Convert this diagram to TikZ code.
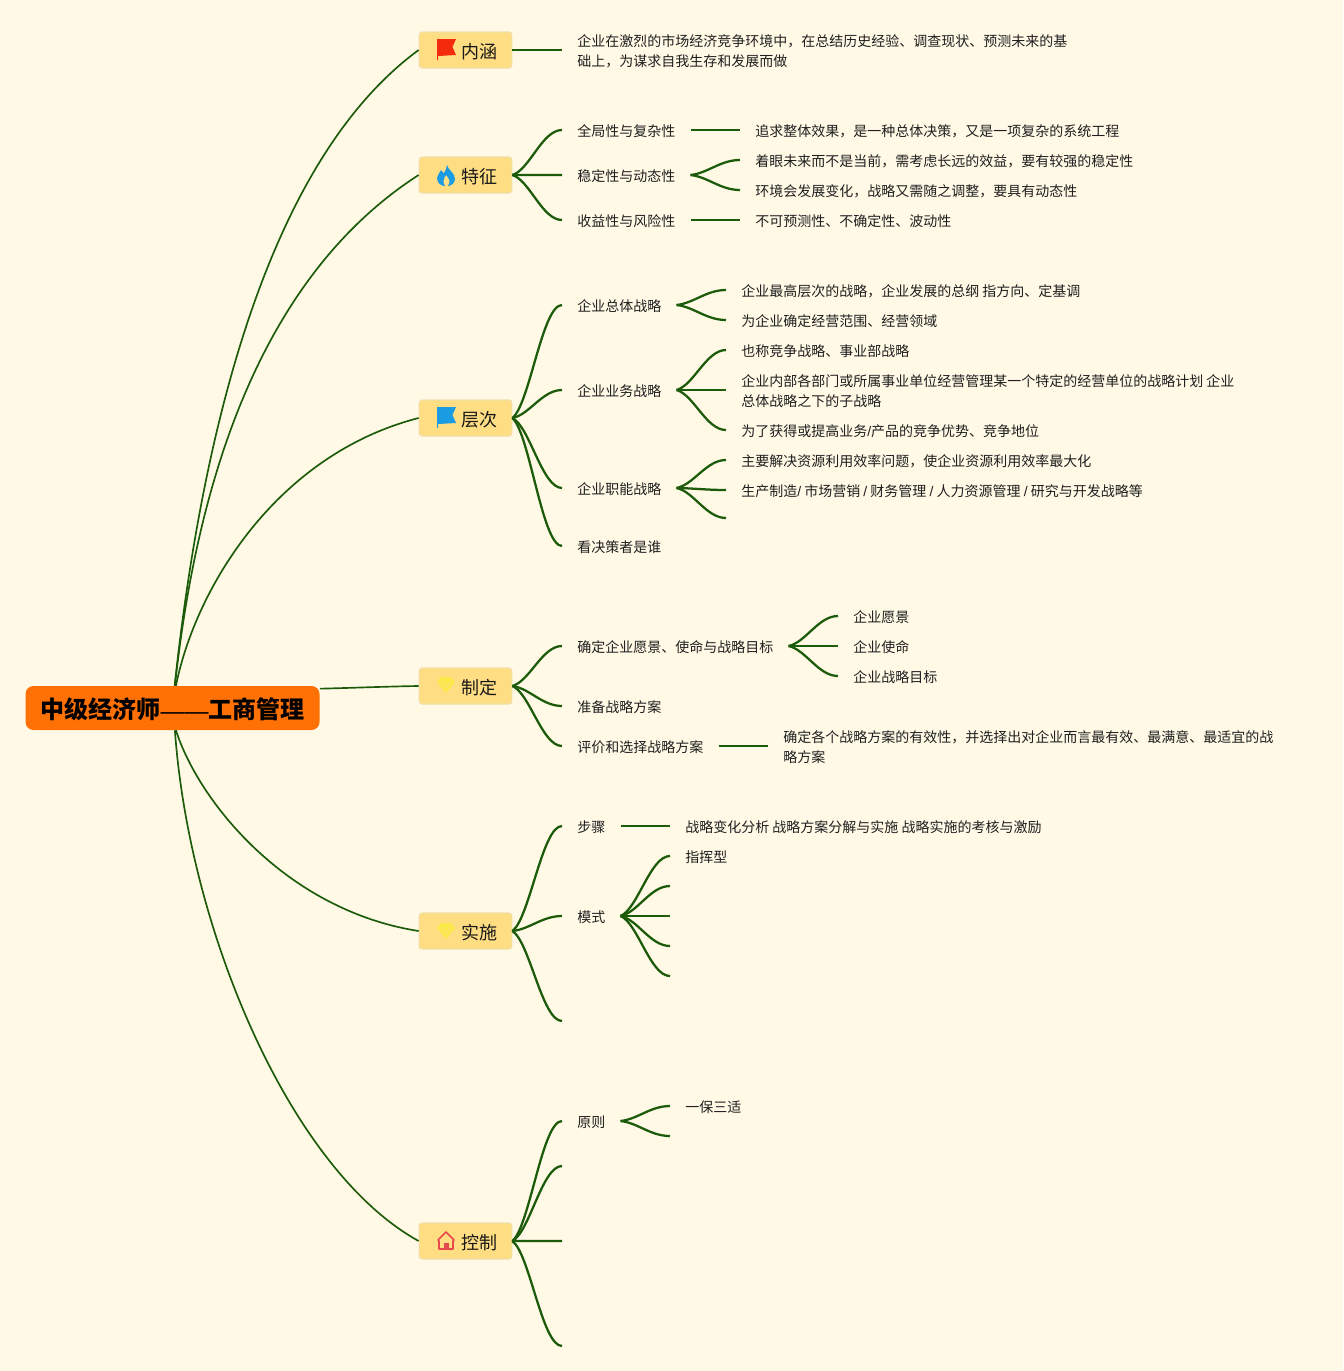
\documentclass[tikz,border=0pt]{standalone}
\usepackage{fontspec}
\setmainfont{Noto Sans CJK SC}
\newfontfamily\latinfont{Liberation Sans}
\usetikzlibrary{calc}
\definecolor{paper}{HTML}{FFF9E6}
\definecolor{linkgreen}{HTML}{1B5B0A}
\definecolor{topicfill}{HTML}{FFDE83}
\definecolor{topicedge}{HTML}{F0DFA6}
\definecolor{rootfill}{HTML}{FF7105}
\definecolor{flagred}{HTML}{F42A0C}
\definecolor{flagblue}{HTML}{1A9BE2}
\definecolor{gemyellow}{HTML}{FBE84A}
\definecolor{housered}{HTML}{E5484D}
\begin{document}
\begin{tikzpicture}[
    x=0.75pt, y=-0.75pt,
    root/.style={rectangle, rounded corners=6pt, fill=rootfill, minimum width=220.5pt, minimum height=33pt, inner sep=0pt, text height=18.9pt, text depth=3pt, font=\fontsize{18}{22}\selectfont\bfseries, text=black},
    topic/.style={rectangle, rounded corners=2.2pt, draw=topicedge, line width=0.8pt, fill=topicfill, minimum width=69.5pt, minimum height=27pt, inner sep=0pt, text height=15.4pt, text depth=2.5pt, font=\fontsize{13.5}{16}\selectfont, text=black!90},
    item/.style={rectangle, anchor=west, inner xsep=11.25pt, inner ysep=0pt, align=left, text height=11.5pt, text depth=2pt, font=\fontsize{10.5}{15}\selectfont, text=black!88},
    twoline/.style={text height=26.5pt},
    link/.style={draw=linkgreen, line width=1.7pt},
    mainlink/.style={draw=linkgreen, line width=1.25pt},
    branch/.style={to path={.. controls ({$(\tikztostart)!.35!(\tikztotarget)$} |- {$(\tikztostart)!.12!(\tikztotarget)$}) and ($(\tikztotarget)!.4!(\tikztostart|-\tikztotarget)$) .. (\tikztotarget)}},
    flagicon/.pic={\fill[pic actions] (-9,-11) -- (10,-11) -- (6.5,-3) -- (10,5) -- (-8,6) -- (-8,10) -- (-9,10) -- cycle;},
    flameicon/.pic={\fill[flagblue] (1,-10) .. controls (2,-5) and (9,-2) .. (9,4) .. controls (9,8) and (5,11) .. (2,11) .. controls (5,7) and (3,3) .. (0,0) .. controls (-2,3) and (-4,7) .. (-1,11) .. controls (-5,11) and (-9,8) .. (-9,3) .. controls (-9,0) and (-6,-2) .. (-5,-5) .. controls (-3,-3) and (-3,-2) .. (-2,-2) .. controls (0,-4) and (0,-7) .. (1,-10) -- cycle;},
    gemicon/.pic={\fill[gemyellow] (-5,-8) -- (5,-8) -- (9,-3) -- (0,8) -- (-9,-3) -- cycle; \draw[topicfill, line width=0.5pt] (-4,-3) -- (0,3) -- (4,-3);},
    houseicon/.pic={\draw[housered, line width=1.2pt, line join=round] (-8,-1) -- (0,-9) -- (8,-1) -- (7,0) -- (7,8) -- (-7,8) -- (-7,0) -- cycle; \fill[housered] (-2.5,8) -- (-2.5,2) -- (2.5,2) -- (2.5,8) -- cycle;}
]
    % Hintergrund
    \fill[paper] (0,0) rectangle (1343,1371);

    % Zentrum
    \node[root] (center) at (172.5,708) {中级经济师\raisebox{-.6pt}{\mdseries\latinfont ——}工商管理};

    % Hauptthemen
    \node[topic] (neihan) at (465.5,50) {\hspace{20.25pt}内涵};
    \node[topic] (tezheng) at (465.5,175) {\hspace{20.25pt}特征};
    \node[topic] (cengci) at (465.5,418) {\hspace{20.25pt}层次};
    \node[topic] (zhiding) at (465.5,686) {\hspace{20.25pt}制定};
    \node[topic] (shishi) at (465.5,931) {\hspace{20.25pt}实施};
    \node[topic] (kongzhi) at (465.5,1241) {\hspace{20.25pt}控制};

    % Symbole
    \pic[fill=flagred] at (446,50) {flagicon};
    \pic at (446,175) {flameicon};
    \pic[fill=flagblue] at (446,418) {flagicon};
    \pic at (446,685) {gemicon};
    \pic at (446,931) {gemicon};
    \pic at (446,1241) {houseicon};

    % Inhalt
    \node[item, twoline] (neihantext) at (562,50) {企业在激烈的市场经济竞争环境中，在总结历史经验、调查现状、预测未来的基\\础上，为谋求自我生存和发展而做};

    % Merkmale
    \node[item] (quanju) at (562,130) {全局性与复杂性};
    \node[item] (wending) at (562,175) {稳定性与动态性};
    \node[item] (shouyi) at (562,220) {收益性与风险性};
    \node[item] (zhengti) at (740,130) {追求整体效果，是一种总体决策，又是一项复杂的系统工程};
    \node[item] (zheyan) at (740,160) {着眼未来而不是当前，需考虑长远的效益，要有较强的稳定性};
    \node[item] (huanjing) at (740,190) {环境会发展变化，战略又需随之调整，要具有动态性};
    \node[item] (buke) at (740,220) {不可预测性、不确定性、波动性};

    % Ebenen
    \node[item] (zongti) at (562,305) {企业总体战略};
    \node[item] (yewu) at (562,390) {企业业务战略};
    \node[item] (zhineng) at (562,488) {企业职能战略};
    \node[item] (juece) at (562,546) {看决策者是谁};
    \node[item] (zuigao) at (726,290) {企业最高层次的战略，企业发展的总纲 指方向、定基调};
    \node[item] (fanwei) at (726,320) {为企业确定经营范围、经营领域};
    \node[item] (jingzheng) at (726,350) {也称竞争战略、事业部战略};
    \node[item, twoline] (bumen) at (726,390) {企业内部各部门或所属事业单位经营管理某一个特定的经营单位的战略计划 企业\\总体战略之下的子战略};
    \node[item] (youshi) at (726,430) {为了获得或提高业务{\latinfont/}产品的竞争优势、竞争地位};
    \node[item] (xiaolv) at (726,460) {主要解决资源利用效率问题，使企业资源利用效率最大化};
    \node[item] (shengchan) at (726,490) {生产制造{\latinfont/} 市场营销 {\latinfont/} 财务管理 {\latinfont/} 人力资源管理 {\latinfont/} 研究与开发战略等};
    \coordinate (zhinengend) at (726,518);

    % Formulierung
    \node[item] (queding) at (562,646) {确定企业愿景、使命与战略目标};
    \node[item] (zhunbei) at (562,706) {准备战略方案};
    \node[item] (pingjia) at (562,746) {评价和选择战略方案};
    \node[item] (yuanjing) at (838,616) {企业愿景};
    \node[item] (shiming) at (838,646) {企业使命};
    \node[item] (mubiao) at (838,676) {企业战略目标};
    \node[item, twoline] (youxiao) at (768,746) {确定各个战略方案的有效性，并选择出对企业而言最有效、最满意、最适宜的战\\略方案};

    % Umsetzung
    \node[item] (buzhou) at (562,826) {步骤};
    \node[item] (moshi) at (562,916) {模式};
    \coordinate (shishiend) at (562,1021);
    \node[item] (fenxi) at (670,826) {战略变化分析 战略方案分解与实施 战略实施的考核与激励};
    \node[item] (zhihui) at (670,856) {指挥型};
    \coordinate (moshib) at (670,886);
    \coordinate (moshic) at (670,916);
    \coordinate (moshid) at (670,946);
    \coordinate (moshie) at (670,976);

    % Kontrolle
    \node[item] (yuanze) at (562,1121) {原则};
    \coordinate (kongzhib) at (562,1166);
    \coordinate (kongzhic) at (562,1241);
    \coordinate (kongzhid) at (562,1346);
    \node[item] (yibao) at (670,1106) {一保三适};
    \coordinate (yuanzeb) at (670,1136);

    % Hauptlinien
    \draw[mainlink] ([xshift=1.6pt]center.north) .. controls (200,450) and (262,165) .. (neihan.west);
    \draw[mainlink] ([xshift=1.8pt]center.north) .. controls (192,530) and (240,290) .. (tezheng.west);
    \draw[mainlink] ([xshift=2.6pt]center.north) .. controls (195,590) and (275,455) .. (cengci.west);
    \draw[mainlink] ([yshift=-2.2pt]center.north east) .. controls (350,688) and (385,686.5) .. (zhiding.west);
    \draw[mainlink] ([xshift=2.6pt]center.south) .. controls (198,800) and (285,910) .. (shishi.west);
    \draw[mainlink] ([xshift=1.8pt]center.south) .. controls (189,930) and (290,1170) .. (kongzhi.west);

    % Zweige
    \draw[link] (neihan.east) -- (neihantext.west);
    \foreach \leaf in {quanju.west, wending.west, shouyi.west}
        \draw[link] (tezheng.east) to[branch] (\leaf);
    \draw[link] (quanju.east) -- (zhengti.west);
    \foreach \leaf in {zheyan.west, huanjing.west}
        \draw[link] (wending.east) to[branch] (\leaf);
    \draw[link] (shouyi.east) -- (buke.west);
    \foreach \leaf in {zongti.west, yewu.west, zhineng.west, juece.west}
        \draw[link] (cengci.east) to[branch] (\leaf);
    \foreach \leaf in {zuigao.west, fanwei.west}
        \draw[link] (zongti.east) to[branch] (\leaf);
    \foreach \leaf in {jingzheng.west, bumen.west, youshi.west}
        \draw[link] (yewu.east) to[branch] (\leaf);
    \foreach \leaf in {xiaolv.west, shengchan.west, zhinengend}
        \draw[link] (zhineng.east) to[branch] (\leaf);
    \foreach \leaf in {queding.west, zhunbei.west, pingjia.west}
        \draw[link] (zhiding.east) to[branch] (\leaf);
    \foreach \leaf in {yuanjing.west, shiming.west, mubiao.west}
        \draw[link] (queding.east) to[branch] (\leaf);
    \draw[link] (pingjia.east) -- (youxiao.west);
    \foreach \leaf in {buzhou.west, moshi.west, shishiend}
        \draw[link] (shishi.east) to[branch] (\leaf);
    \draw[link] (buzhou.east) -- (fenxi.west);
    \foreach \leaf in {zhihui.west, moshib, moshic, moshid, moshie}
        \draw[link] (moshi.east) to[branch] (\leaf);
    \foreach \leaf in {yuanze.west, kongzhib, kongzhic, kongzhid}
        \draw[link] (kongzhi.east) to[branch] (\leaf);
    \foreach \leaf in {yibao.west, yuanzeb}
        \draw[link] (yuanze.east) to[branch] (\leaf);
\end{tikzpicture}
\end{document}
